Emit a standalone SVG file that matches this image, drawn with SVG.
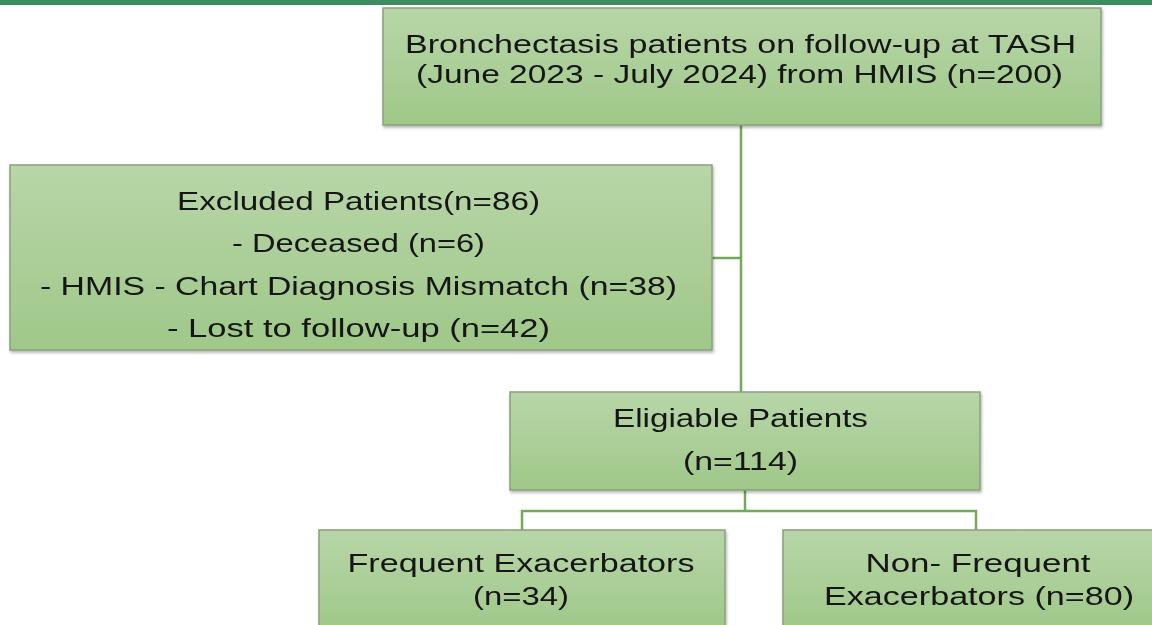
<svg xmlns="http://www.w3.org/2000/svg" width="1152" height="625" viewBox="0 0 1152 625">
<style>
.box{fill:url(#g);stroke:#8aa07c;stroke-width:1.5}
.t{font-family:"Liberation Sans",Arial,sans-serif;font-size:25px;fill:#151515;text-anchor:middle}
.c{fill:none;stroke:#74a85a;stroke-width:2.5}
</style>
<defs>
<linearGradient id="g" x1="0" y1="0" x2="0" y2="1">
<stop offset="0" stop-color="#b8d6a8"/>
<stop offset="1" stop-color="#9fc889"/>
</linearGradient>
<filter id="sh" x="-5%" y="-5%" width="110%" height="115%">
<feDropShadow dx="1" dy="2" stdDeviation="1.5" flood-color="#000" flood-opacity="0.3"/>
</filter>
</defs>
<rect x="0" y="0" width="1152" height="625" fill="#fff"/>
<rect x="0" y="0" width="1152" height="5" fill="#3d8c5f"/>
<g id="connectors">
<path class="c" d="M741 125 V392"/>
<path class="c" d="M712 258 H741"/>
<path class="c" d="M745 490 V511 M522 530 V511 H976 V530"/>
</g>
<g id="top" filter="url(#sh)">
<rect class="box" x="383" y="8" width="718" height="117"/>
<text class="t" x="740.5" y="53" textLength="671" lengthAdjust="spacingAndGlyphs">Bronchectasis patients on follow-up at TASH</text>
<text class="t" x="739.5" y="83" textLength="647" lengthAdjust="spacingAndGlyphs">(June 2023 - July 2024) from HMIS (n=200)</text>
</g>
<g id="excluded" filter="url(#sh)">
<rect class="box" x="10" y="165" width="702" height="185"/>
<text class="t" x="358.5" y="210" textLength="363" lengthAdjust="spacingAndGlyphs">Excluded Patients(n=86)</text>
<text class="t" x="358.5" y="252" textLength="253" lengthAdjust="spacingAndGlyphs">- Deceased (n=6)</text>
<text class="t" x="358.5" y="295" textLength="637" lengthAdjust="spacingAndGlyphs">- HMIS - Chart Diagnosis Mismatch (n=38)</text>
<text class="t" x="358.5" y="337" textLength="383" lengthAdjust="spacingAndGlyphs">- Lost to follow-up (n=42)</text>
</g>
<g id="eligible" filter="url(#sh)">
<rect class="box" x="510" y="392" width="470" height="98"/>
<text class="t" x="740.5" y="427" textLength="255" lengthAdjust="spacingAndGlyphs">Eligiable Patients</text>
<text class="t" x="740.5" y="470" textLength="115" lengthAdjust="spacingAndGlyphs">(n=114)</text>
</g>
<g id="frequent" filter="url(#sh)">
<rect class="box" x="319" y="530" width="406" height="100"/>
<text class="t" x="521" y="572" textLength="347" lengthAdjust="spacingAndGlyphs">Frequent Exacerbators</text>
<text class="t" x="521" y="605" textLength="96" lengthAdjust="spacingAndGlyphs">(n=34)</text>
</g>
<g id="nonfrequent" filter="url(#sh)">
<rect class="box" x="783" y="530" width="400" height="100"/>
<text class="t" x="978" y="572" textLength="225" lengthAdjust="spacingAndGlyphs">Non- Frequent</text>
<text class="t" x="979" y="605" textLength="310" lengthAdjust="spacingAndGlyphs">Exacerbators (n=80)</text>
</g>
</svg>
